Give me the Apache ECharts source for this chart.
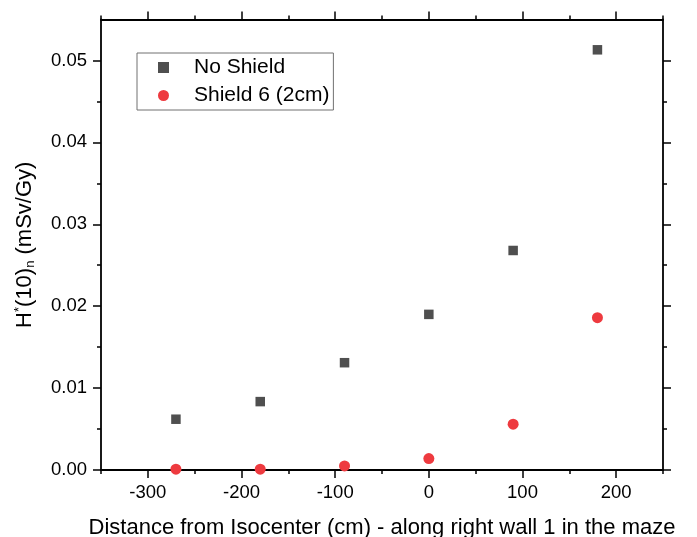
<!DOCTYPE html>
<html>
<head>
<meta charset="utf-8">
<script src="https://cdn.jsdelivr.net/npm/echarts@6/dist/echarts.min.js"></script>
<style>html,body{margin:0;padding:0;background:#fff}#c{width:697px;height:537px}</style>
</head>
<body>
<div id="c"></div>
<script>
var distances = [-270, -180, -90, 0, 90, 180];
var noShield = [0.0062, 0.00835, 0.0131, 0.0190, 0.0268, 0.0513];
var shield6 = [0.0001, 0.0001, 0.0005, 0.0014, 0.0056, 0.0186];
var xMajorTicks = [-300, -200, -100, 0, 100, 200];
var xMinorTicks = [-350, -250, -150, -50, 50, 150, 250];
var yMajorTicks = [0, 0.01, 0.02, 0.03, 0.04, 0.05];
var yMinorTicks = [0.005, 0.015, 0.025, 0.035, 0.045];
var seriesNames = ['No Shield', 'Shield 6 (2cm)'];

var FONT = '"Liberation Sans", Arial, sans-serif';
var XMIN = -350, XMAX = 250, YMIN = 0, YMAX = 0.055;
var lineStyle = {color: '#000', width: 1.8};

function xAxisDef(pos, major, showLine, showLabel) {
  return {
    type: 'value', position: pos, min: XMIN, max: XMAX, interval: 50,
    splitLine: {show: false},
    axisLine: {show: showLine, onZero: false, lineStyle: lineStyle},
    axisTick: {show: true, inside: false, length: major ? 8 : 4,
      customValues: major ? xMajorTicks : xMinorTicks,
      lineStyle: {color: '#000', width: 1.5}},
    axisLabel: {show: showLabel, customValues: xMajorTicks, margin: 13,
      color: '#000', fontSize: 18.5, fontFamily: FONT}
  };
}
function yAxisDef(pos, major, showLine, showLabel) {
  return {
    type: 'value', position: pos, min: YMIN, max: YMAX, interval: 0.005,
    splitLine: {show: false},
    axisLine: {show: showLine, onZero: false, lineStyle: lineStyle},
    axisTick: {show: true, inside: false, length: major ? 8 : 4,
      customValues: major ? yMajorTicks : yMinorTicks,
      lineStyle: {color: '#000', width: 1.5}},
    axisLabel: {show: showLabel, customValues: yMajorTicks, margin: 14,
      color: '#000', fontSize: 18.5, fontFamily: FONT,
      formatter: function (v) { return v.toFixed(2); }}
  };
}

var xa0 = xAxisDef('bottom', true, true, true);
xa0.name = 'Distance from Isocenter (cm) - along right wall 1 in the maze';
xa0.nameLocation = 'middle';
xa0.nameGap = 47;
xa0.nameTextStyle = {color: '#000', fontSize: 22, fontFamily: FONT};

var ya0 = yAxisDef('left', true, true, true);
ya0.name = 'H{sup|*}(10){sub|n} (mSv/Gy)';
ya0.nameLocation = 'middle';
ya0.nameGap = 64;
ya0.nameTextStyle = {
  color: '#000', fontSize: 22, fontFamily: FONT, lineHeight: 24,
  rich: {
    sup: {fontSize: 13, fontFamily: FONT, color: '#000', verticalAlign: 'top', lineHeight: 24, padding: [0, 0, 11, 0]},
    sub: {fontSize: 13, fontFamily: FONT, color: '#000', verticalAlign: 'bottom', lineHeight: 24, padding: [11, 0, 0, 0]}
  }
};

var chart = echarts.init(document.getElementById('c'), null, {renderer: 'canvas'});
chart.setOption({
  animation: false,
  backgroundColor: '#fff',
  grid: {left: 101, right: 34, top: 19.5, bottom: 67, containLabel: false, outerBoundsMode: 'none'},
  legend: {
    orient: 'vertical', left: 137, top: 53,
    data: seriesNames,
    itemWidth: 11, itemHeight: 11, itemGap: 7,
    padding: [4, 4, 4, 21],
    borderColor: '#707070', borderWidth: 1,
    textStyle: {color: '#000', fontSize: 21, fontFamily: FONT, lineHeight: 21, padding: [0, 0, 0, 20]}
  },
  xAxis: [
    xa0,
    xAxisDef('bottom', false, false, false),
    xAxisDef('top', true, true, false),
    xAxisDef('top', false, false, false)
  ],
  yAxis: [
    ya0,
    yAxisDef('left', false, false, false),
    yAxisDef('right', true, true, false),
    yAxisDef('right', false, false, false)
  ],
  series: [
    {
      name: seriesNames[0], type: 'scatter', symbol: 'rect', symbolSize: 9.5,
      itemStyle: {color: '#4F4F4F', opacity: 1},
      data: distances.map(function (d, i) { return [d, noShield[i]]; })
    },
    {
      name: seriesNames[1], type: 'scatter', symbol: 'circle', symbolSize: 11,
      itemStyle: {color: '#EE3A3F', opacity: 1},
      data: distances.map(function (d, i) { return [d, shield6[i]]; })
    }
  ]
});
</script>
</body>
</html>
